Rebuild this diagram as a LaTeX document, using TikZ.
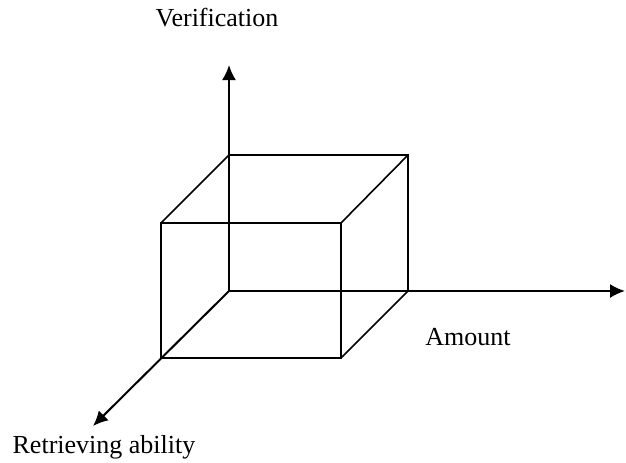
\documentclass[tikz,border=0pt]{standalone}
\usepackage{fontspec}
\setmainfont{Liberation Serif}
\usetikzlibrary{arrows.meta}
\begin{document}
\begin{tikzpicture}[x=0.5pt, y=-0.5pt,
    axis/.style={line width=1pt, -{Latex[length=7.5pt,width=7pt]}},
    edge/.style={line width=0.8pt},
    lbl/.style={font=\fontsize{13}{15}\selectfont, inner sep=0pt}]
    \useasboundingbox (0,0) rectangle (626,462);

    % Uklad osi
    \coordinate (O) at (229,291);
    \coordinate (V) at (229,65);
    \coordinate (A) at (625,291);
    \coordinate (R) at (93,426);
    \draw[axis] (O) -- (V);
    \draw[axis] (O) -- (A);
    \draw[axis] (O) -- (R);

    % Naroza prostopadloscianu
    \coordinate (b1) at (229,155);
    \coordinate (b2) at (408,155);
    \coordinate (b3) at (408,291);
    \coordinate (f1) at (161,223);
    \coordinate (f2) at (341,223);
    \coordinate (f3) at (341,358);
    \coordinate (f4) at (161,358);

    % Sciana przednia i krawedzie do tylu
    \draw[edge] (f1) -- (f2) -- (f3) -- (f4) -- cycle;
    \draw[edge] (O) -- (b1) -- (b2) -- (b3);
    \foreach \f/\b in {f1/b1, f2/b2, f3/b3} {
        \draw[edge] (\f) -- (\b);
    }

    % Opisy osi
    \node[lbl] (vlab) at (217,18) {Verification};
    \node[lbl] (alab) at (468,337) {Amount};
    \node[lbl] (rlab) at (104,447) {Retrieving ability};
\end{tikzpicture}
\end{document}
